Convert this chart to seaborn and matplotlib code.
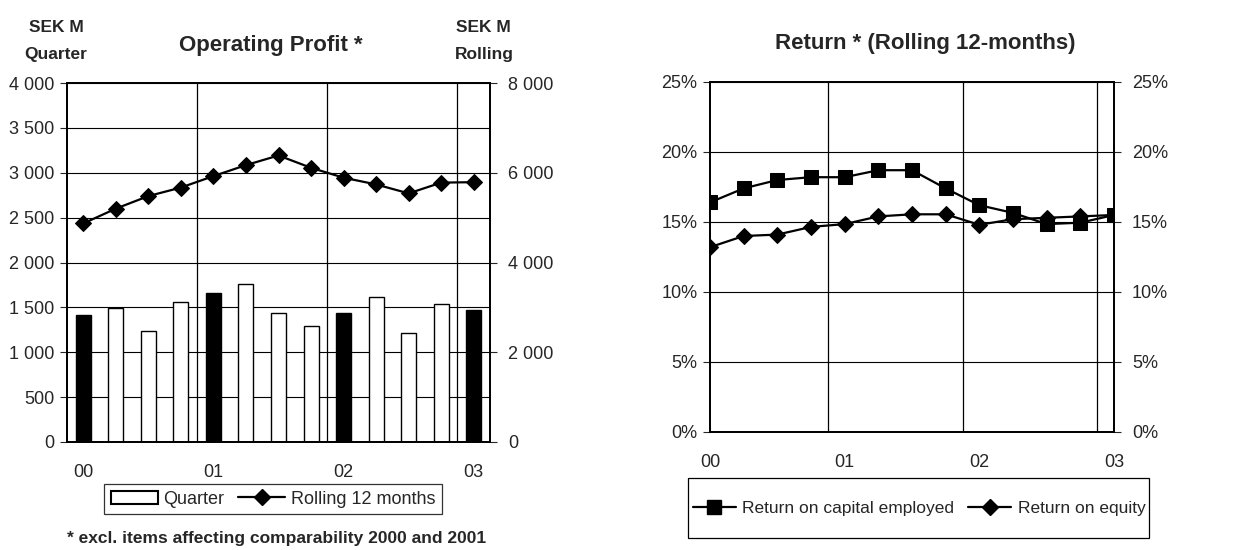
import numpy as np
import pandas as pd
import matplotlib.pyplot as plt
import seaborn as sns
from matplotlib.lines import Line2D
from matplotlib.patches import Patch, Rectangle
from matplotlib.ticker import FuncFormatter

# quarters 2000 Q1 .. 2003 Q1
periods = ["00Q1", "00Q2", "00Q3", "00Q4", "01Q1", "01Q2", "01Q3", "01Q4",
           "02Q1", "02Q2", "02Q3", "02Q4", "03Q1"]
year_labels = ["00", "01", "02", "03"]

# Operating profit, SEK M
quarter_profit = [1420, 1495, 1240, 1565, 1655, 1765, 1435, 1290,
                  1435, 1620, 1220, 1540, 1470]
rolling_profit = [4870, 5200, 5480, 5670, 5925, 6170, 6385, 6110,
                  5890, 5740, 5540, 5780, 5790]

# Return, rolling 12 months (%)
roce = [16.4, 17.4, 18.0, 18.2, 18.2, 18.7, 18.7, 17.4,
        16.2, 15.65, 14.85, 14.95, 15.5]
roe = [13.2, 14.0, 14.1, 14.65, 14.85, 15.4, 15.55, 15.55,
       14.8, 15.2, 15.3, 15.4, 15.5]

sns.set_style("white")
plt.rcParams['font.family'] = ['Liberation Sans', 'DejaVu Sans']

df = pd.DataFrame({
    "period": periods,
    "quarter": quarter_profit,
    "rolling": rolling_profit,
    "roce": roce,
    "roe": roe,
})
df["pos"] = np.arange(len(df))
df["kind"] = ["first" if p.endswith("Q1") else "other" for p in periods]

fig = plt.figure(figsize=(12.6, 5.5), dpi=100)

def space_thousands(v, _):
    return f"{v:,.0f}".replace(",", " ")

# =========================
# OPERATING PROFIT
# =========================
ax = fig.add_axes([67/1260, 1 - 442/550, 423/1260, 359/550])
sns.barplot(data=df, x="period", y="quarter", hue="kind",
            palette={"first": "black", "other": "white"},
            dodge=False, edgecolor="black", linewidth=1, width=0.46,
            legend=False, ax=ax, zorder=2)
ax.set_xlim(-0.5, 12.5)
ax.set_ylim(0, 4000)
ax.set_yticks(np.arange(0, 4001, 500))
ax.yaxis.set_major_formatter(FuncFormatter(space_thousands))
ax.yaxis.grid(True, color="black", lw=0.8)
ax.set_axisbelow(True)
for xv in [3.5, 7.5, 11.5]:
    ax.axvline(xv, color="black", lw=0.9, zorder=1)
ax.set_xticks([0, 4, 8, 12])
ax.set_xticklabels(year_labels)
ax.set_xlabel("")
ax.set_ylabel("")
ax.tick_params(axis="x", length=0, pad=16, labelsize=13)
ax.tick_params(axis="y", length=5, direction="out", width=0.8, labelsize=13, pad=4, left=True)

ax2 = ax.twinx()
sns.lineplot(data=df, x="pos", y="rolling", ax=ax2, color="black",
             marker="D", markersize=8.5, markeredgecolor="black", linewidth=1.6)
ax2.set_ylim(0, 8000)
ax2.set_yticks(np.arange(0, 8001, 2000))
ax2.yaxis.set_major_formatter(FuncFormatter(space_thousands))
ax2.set_ylabel("")
ax2.tick_params(axis="y", length=5, direction="out", width=0.8, labelsize=13, pad=8, right=True)
for a in (ax, ax2):
    for s in a.spines.values():
        s.set_color("black")
        s.set_linewidth(1.3)

fig.text(271/1260, 1 - 45/550, "Operating Profit *", ha="center", va="center",
         fontsize=16, fontweight="bold")
fig.text(56/1260, 1 - 28/550, "SEK M", ha="center", va="center",
         fontsize=12.5, fontweight="bold")
fig.text(56/1260, 1 - 55/550, "Quarter", ha="center", va="center",
         fontsize=12.5, fontweight="bold")
fig.text(483/1260, 1 - 28/550, "SEK M", ha="center", va="center",
         fontsize=12.5, fontweight="bold")
fig.text(484/1260, 1 - 55/550, "Rolling", ha="center", va="center",
         fontsize=12.5, fontweight="bold")

h1 = [Patch(facecolor="white", edgecolor="black", lw=1.5),
      Line2D([], [], color="black", marker="D", markersize=8.5, lw=1.6)]
leg1 = fig.legend(h1, ["Quarter", "Rolling 12 months"], loc="center",
                  bbox_to_anchor=(273/1260, 1 - 499/550), ncol=2, fontsize=13,
                  frameon=True, fancybox=False, edgecolor="black",
                  handlelength=2.6, handletextpad=0.3, columnspacing=0.8,
                  borderpad=0.35, borderaxespad=0)
leg1.get_frame().set_linewidth(0.9)

fig.text(277/1260, 1 - 539/550, "* excl. items affecting comparability 2000 and 2001",
         ha="center", va="center", fontsize=12.5, fontweight="bold")

# =========================
# RETURN
# =========================
bx = fig.add_axes([710/1260, 1 - 432/550, 404/1260, 350/550])
sns.lineplot(data=df, x="pos", y="roce", ax=bx, color="black",
             marker="s", markersize=10, markeredgecolor="black", linewidth=1.6)
sns.lineplot(data=df, x="pos", y="roe", ax=bx, color="black",
             marker="D", markersize=8.5, markeredgecolor="black", linewidth=1.6)
bx.set_xlim(0, 12)
bx.set_ylim(0, 25)
bx.set_yticks(np.arange(0, 26, 5))
bx.yaxis.set_major_formatter(FuncFormatter(lambda v, _: f"{v:.0f}%"))
bx.yaxis.grid(True, color="black", lw=0.8)
bx.set_axisbelow(True)
for xv in [3.5, 7.5, 11.5]:
    bx.axvline(xv, color="black", lw=0.9, zorder=1)
bx.set_xticks([0, 4, 8, 12])
bx.set_xticklabels(year_labels)
bx.set_xlabel("")
bx.set_ylabel("")
bx.tick_params(axis="x", length=0, pad=16, labelsize=13)
bx.tick_params(axis="y", length=5, direction="out", width=0.8, labelsize=13, pad=4, left=True)

bx2 = bx.twinx()
bx2.set_ylim(0, 25)
bx2.set_yticks(np.arange(0, 26, 5))
bx2.yaxis.set_major_formatter(FuncFormatter(lambda v, _: f"{v:.0f}%"))
bx2.tick_params(axis="y", length=5, direction="out", width=0.8, labelsize=13, pad=8, right=True)
for a in (bx, bx2):
    for s in a.spines.values():
        s.set_color("black")
        s.set_linewidth(1.3)

fig.text(925/1260, 1 - 43/550, "Return * (Rolling 12-months)", ha="center", va="center",
         fontsize=16, fontweight="bold")

# legend box drawn separately (wide, tall frame)
fig.patches.append(Rectangle((688/1260, 1 - 538/550), 461/1260, 60/550,
                             transform=fig.transFigure, facecolor="white",
                             edgecolor="black", lw=0.9, zorder=0))
h2 = [Line2D([], [], color="black", marker="s", markersize=10, lw=1.6),
      Line2D([], [], color="black", marker="D", markersize=8.5, lw=1.6)]
leg2 = fig.legend(h2, ["Return on capital employed", "Return on equity"], loc="center",
                  bbox_to_anchor=(919/1260, 1 - 508/550), ncol=2, fontsize=12.5,
                  frameon=False, handlelength=2.5, handletextpad=0.35,
                  columnspacing=0.8, borderpad=0, borderaxespad=0)

fig.savefig("out.png", dpi=100)
